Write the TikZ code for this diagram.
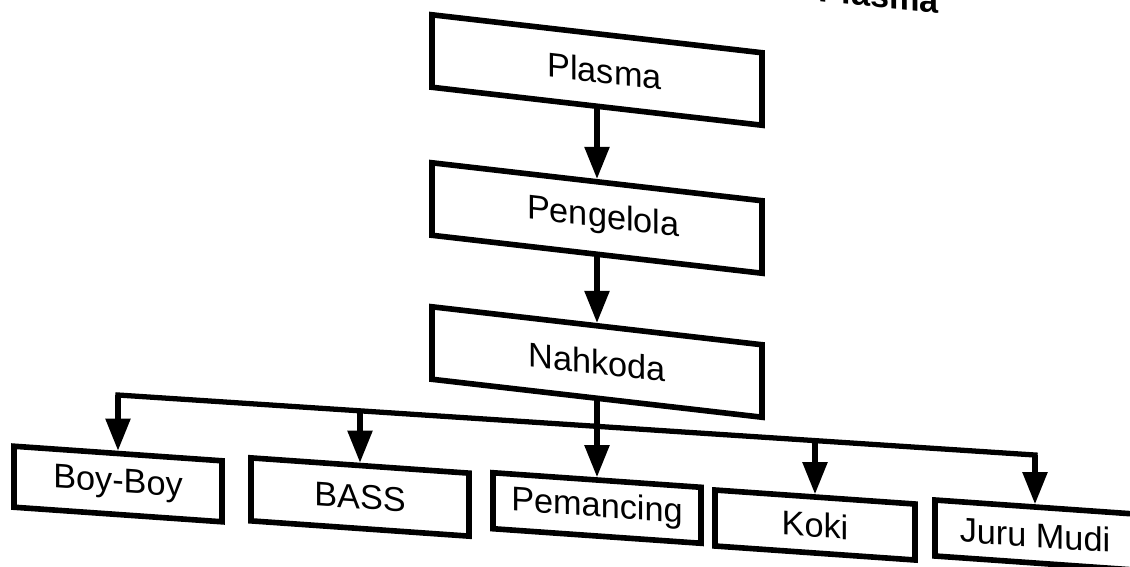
\documentclass[tikz,border=0pt]{standalone}
\usepackage{fontspec}
\setmainfont{Liberation Sans}
\usetikzlibrary{arrows.meta}

\begin{document}
\begin{tikzpicture}
[x=0.02cm,y=-0.02cm,%
  lineDecorate/.style={-{Triangle[length=0.64cm,width=0.48cm]},line width=3pt},%
  busDecorate/.style={-,line width=3pt,line cap=rect},%
  topDecorate/.style={draw,line width=3.2pt,minimum width=6.6cm,minimum height=1.45cm,yslant=-0.115,font=\fontsize{19.5}{22}\selectfont},%
  lowDecorate/.style={draw,line width=3.2pt,minimum height=1.12cm,yslant=-0.07,font=\fontsize{19.5}{22}\selectfont}]
\useasboundingbox (0,0) rectangle (1130,566);
\clip (0,0) rectangle (1130,566);
%% title, cut by the page edge
\node[anchor=base east,yslant=-0.1,font=\fontsize{19.5}{22}\selectfont\bfseries] (title) at (945,14) {Pemilik Plasma};
%% upper boxes
\node[topDecorate] (plasma) at (597,70) {\hspace{0.3cm}Plasma};
\node[topDecorate] (pengelola) at (597,218) {\hspace{0.25cm}Pengelola};
\node[topDecorate] (nahkoda) at (597,362) {Nahkoda};
%% lower boxes
\node[lowDecorate,minimum width=4.16cm,minimum height=1.22cm] (boy) at (118,484) {Boy-Boy};
\node[lowDecorate,minimum width=4.36cm,minimum height=1.26cm] (bass) at (360,497) {BASS};
\node[lowDecorate,minimum width=4.16cm] (pemancing) at (597,508) {Pemancing};
\node[lowDecorate,minimum width=4.0cm] (koki) at (815,525) {Koki};
\node[lowDecorate,minimum width=4.0cm] (juru) at (1035,535) {Juru Mudi};
%% taps on the bus
\foreach \kid/\x/\y in {boy/118/395, bass/360/411, koki/815/440, juru/1035/455}
{
  \coordinate (tap\kid) at (\x,\y);
}
%% connect nodes
\draw[lineDecorate] (plasma.south) -- (pengelola.north);
\draw[lineDecorate] (pengelola.south) -- (nahkoda.north);
\draw[lineDecorate] (nahkoda.south) -- (pemancing.north);
\draw[busDecorate] (tapboy) -- (tapjuru);
\foreach \kid in {boy,bass,koki,juru}
  \draw[lineDecorate] (tap\kid) -- (\kid.north);
\end{tikzpicture}
\end{document}
